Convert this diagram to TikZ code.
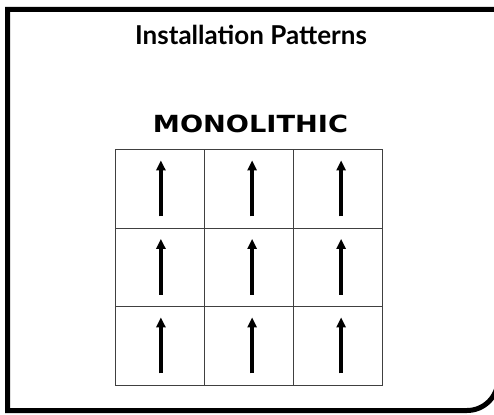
\documentclass[tikz,border=0pt]{standalone}
\usepackage{fontspec}
\usepackage{graphicx}
\usetikzlibrary{arrows.meta}
\newfontfamily\titlefont{Lato}
\newfontfamily\labelfont{DejaVu Sans}
\begin{document}
\begin{tikzpicture}[x=1pt,y=-1pt,
  cell/.style={draw=black!75,line width=1.2pt,minimum width=89pt,minimum height=78.5pt,inner sep=0pt,anchor=north west},
  uparrow/.style={line width=3.3pt,-{Triangle[width=9pt,length=10pt]}},
  frame/.style={line width=5pt,black}]
\useasboundingbox (0,0) rectangle (494,414);
\clip (0,0) rectangle (494,414);
\fill[white] (0,0) rectangle (494,414);
% frame
\draw[frame] (520,9.5) -- (7.5,9.5) -- (7.5,410.5) [rounded corners=31pt]-- (498,410.5) -- (498,300);
% title
\node[anchor=base,inner sep=0pt] (title) at (251,45) {\titlefont\bfseries\fontsize{26}{30}\selectfont Installation Patterns};
\node[inner sep=0pt] (mono) at (250.5,123.5) {\resizebox{195pt}{17.5pt}{\labelfont\bfseries MONOLITHIC}};
% grid
\foreach \r/\y in {1/149,2/227.5,3/306}{
  \foreach \c/\x in {1/115,2/204,3/293}{
    \node[cell] (c\r\c) at (\x,\y) {};
  }
}
% arrows
\foreach \r in {1,2,3}{
  \draw[uparrow] ([xshift=0.8pt,yshift=-27.5pt]c\r1.center) -- ([xshift=0.8pt,yshift=28.5pt]c\r1.center);
  \draw[uparrow] ([xshift=3pt,yshift=-27.5pt]c\r2.center) -- ([xshift=3pt,yshift=28.5pt]c\r2.center);
  \draw[uparrow] ([xshift=3pt,yshift=-27.5pt]c\r3.center) -- ([xshift=3pt,yshift=28.5pt]c\r3.center);
}
\end{tikzpicture}
\end{document}
